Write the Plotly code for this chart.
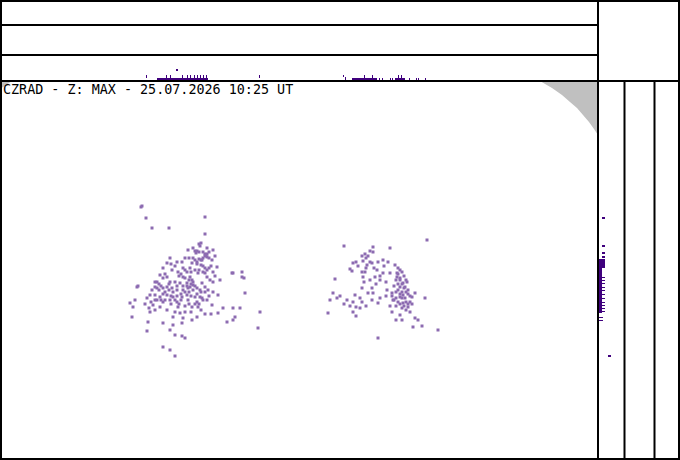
import plotly.graph_objects as go

W, H = 680, 460

# echo pixels of the MAX projection (image pixel coords, x right, y down)
echo1_x = [141, 142, 146, 152, 169, 205, 205, 200, 193, 188, 196, 206, 207, 202, 197, 192, 212, 170, 167, 182,
           190, 203, 205, 198, 217, 163, 172, 178, 160, 167, 183, 190, 192, 207, 210, 220, 233, 242, 244, 155,
           170, 180, 187, 193, 190, 188, 202, 205, 200, 208, 155, 157, 152, 163, 167, 172, 177, 183, 137, 213,
           218, 150, 155, 160, 167, 173, 182, 187, 195, 200, 202, 135, 130, 157, 163, 170, 177, 188, 197, 212,
           133, 153, 160, 178, 192, 198, 223, 233, 240, 150, 180, 197, 218, 173, 183, 192, 235, 132, 148, 163,
           182, 227, 233, 258, 260, 173, 147, 170, 175, 182, 185, 163, 170, 175, 232, 242, 138, 245,
           199, 201, 195, 197, 199, 203, 205, 207, 205, 209, 203, 199, 201, 195, 193, 189, 197, 201, 203, 205,
           209, 207, 199, 195, 191, 187, 185, 183, 181, 179, 185, 189, 193, 191, 187, 195, 197, 193, 189, 185,
           181, 177, 173, 169, 165, 161, 159, 157, 159, 163, 171, 175, 181, 191, 197, 201, 205, 209, 203, 199,
           195, 189, 185, 179, 171, 165, 161, 155, 151, 147, 145, 149, 155, 167, 175, 185, 191, 201, 205, 211,
           207, 213, 215, 213, 211, 215, 213, 209, 207, 185, 177, 175, 171, 165, 163, 175, 169, 177, 183]
echo1_y = [207, 206, 218, 228, 228, 217, 234, 246, 248, 250, 253, 255, 257, 260, 262, 263, 260, 258, 263, 262,
           268, 272, 273, 273, 267, 268, 270, 272, 275, 277, 277, 277, 280, 277, 280, 280, 273, 272, 278, 282,
           282, 283, 283, 285, 287, 288, 283, 287, 290, 290, 287, 288, 290, 288, 287, 288, 290, 290, 287, 292,
           295, 295, 295, 297, 295, 297, 297, 295, 297, 297, 298, 300, 303, 300, 302, 300, 302, 300, 302, 305,
           307, 305, 307, 307, 307, 307, 308, 308, 308, 312, 313, 317, 313, 317, 318, 320, 317, 317, 322, 323,
           323, 322, 320, 328, 312, 325, 331, 330, 335, 336, 338, 347, 350, 356, 273, 277, 286, 293,
           244, 243, 251, 251, 252, 252, 254, 254, 256, 258, 258, 259, 260, 260, 258, 258, 264, 265, 266, 268,
           268, 270, 270, 270, 272, 272, 270, 268, 274, 276, 278, 280, 282, 284, 286, 286, 288, 290, 292, 292,
           294, 296, 292, 290, 292, 286, 284, 282, 290, 294, 296, 300, 300, 296, 294, 292, 292, 296, 300, 304,
           304, 304, 306, 304, 304, 300, 300, 300, 302, 298, 304, 308, 310, 310, 312, 312, 312, 310, 314, 314,
           300, 282, 276, 272, 266, 256, 250, 252, 248, 258, 262, 266, 264, 274, 278, 282, 284, 286, 286]

echo2_x = [344, 373, 370, 373, 390, 427, 365, 362, 353, 356, 363, 370, 383, 350, 367, 372, 362, 365, 377, 383,
           390, 395, 363, 375, 370, 380, 397, 397, 400, 403, 405, 400, 402, 403, 400, 405, 398, 403, 402, 408,
           410, 412, 408, 407, 415, 410, 400, 393, 392, 387, 335, 362, 368, 373, 355, 333, 330, 337, 347, 353,
           360, 356, 360, 353, 378, 392, 328, 415, 418, 413, 422, 438, 378, 425,
           398, 400, 402, 398, 404, 400, 396, 402, 406, 404, 398, 406, 400, 408, 402, 396, 406, 400, 404, 408,
           396, 410, 412, 406, 398, 394, 392, 396, 394, 366, 368, 378, 358, 352, 366, 374, 384, 388, 380, 386,
           376, 372, 364, 386, 380, 372, 366, 362, 350, 344, 340, 356, 396, 402, 390]
echo2_y = [246, 247, 251, 252, 248, 240, 254, 256, 263, 262, 261, 262, 260, 269, 265, 263, 272, 272, 270, 273,
           273, 265, 277, 277, 280, 280, 273, 277, 280, 283, 287, 287, 292, 295, 297, 298, 302, 303, 308, 307,
           302, 297, 290, 282, 293, 312, 315, 300, 293, 290, 279, 288, 293, 293, 295, 293, 300, 298, 300, 302,
           298, 307, 308, 312, 303, 312, 313, 318, 320, 327, 326, 330, 338, 298,
           268, 270, 272, 274, 276, 278, 280, 284, 280, 288, 290, 292, 294, 294, 298, 298, 302, 304, 306, 304,
           306, 296, 304, 310, 284, 286, 296, 292, 300, 258, 256, 262, 266, 271, 268, 268, 266, 262, 276, 282,
           284, 288, 282, 296, 298, 300, 306, 302, 306, 304, 296, 316, 320, 320, 306]

# side view above the map: columns (x from, x to, top y, bottom y)
top_x0 = [146, 157, 176, 166, 170, 182, 187, 190, 194, 197, 200, 203, 206, 259,
          343, 345, 352, 364, 372, 379, 382, 390, 392, 395, 398, 401, 409, 416, 418, 425]
top_x1 = [147, 208, 178, 167, 171, 183, 188, 191, 195, 198, 201, 204, 207, 260,
          344, 346, 377, 365, 373, 380, 383, 391, 393, 405, 399, 402, 410, 417, 419, 426]
top_y0 = [75, 78, 69, 75, 75, 75, 75, 75, 75, 75, 75, 75, 75, 75,
          75, 77, 78, 75, 75, 78, 78, 78, 78, 78, 75, 75, 78, 78, 78, 78]
top_y1 = [78, 81, 71, 78, 78, 78, 78, 78, 78, 78, 78, 78, 78, 78,
          77, 81, 81, 78, 78, 81, 81, 81, 81, 81, 78, 78, 81, 81, 81, 81]

# side view right of the map: rows (y from, y to, left x, right x)
side_y0 = [217, 245, 252, 256, 259, 268, 277, 280, 283, 287, 290, 294, 298, 302, 305, 308, 311, 317, 320, 355]
side_y1 = [219, 247, 254, 258, 268, 313, 278, 281, 284, 288, 291, 295, 299, 303, 306, 309, 312, 318, 321, 357]
side_x0 = [602, 602, 602, 602, 598, 598, 598, 598, 598, 598, 598, 598, 598, 598, 598, 598, 598, 598, 598, 608]
side_x1 = [605, 605, 605, 605, 605, 602, 605, 605, 605, 605, 605, 605, 605, 605, 605, 605, 605, 603, 603, 611]

# edge of radar coverage, top right corner
mask_x = [540, 552, 562, 570, 577, 583, 589, 594, 598, 598]
mask_y = [81, 88, 95, 102, 108, 115, 122, 129, 135, 81]
mask2_x = [0, 12, 0]
mask2_y = [81, 81, 89]

title = "CZRAD - Z: MAX - 25.07.2026 10:25 UT"

echo_col = "#8c6bb1"
proj_col = "#3f007d"

fig = go.Figure()

fig.add_trace(go.Scatter(x=mask_x, y=mask_y, fill="toself", fillcolor="#c0c0c0", mode="none",
                         xaxis="x", yaxis="y", hoverinfo="skip"))
fig.add_trace(go.Scatter(x=mask2_x, y=mask2_y, fill="toself", fillcolor="#c0c0c0", mode="none",
                         xaxis="x", yaxis="y", hoverinfo="skip"))

for ex, ey in [(echo1_x, echo1_y), (echo2_x, echo2_y)]:
    fig.add_trace(go.Scatter(x=ex, y=ey, mode="markers", xaxis="x", yaxis="y",
                             marker=dict(symbol="square", size=3, color=echo_col, line=dict(width=0))))

fig.add_trace(go.Bar(
    x=[(a + b) / 2 for a, b in zip(top_x0, top_x1)],
    width=[b - a for a, b in zip(top_x0, top_x1)],
    base=top_y1,
    y=[a - b for a, b in zip(top_y0, top_y1)],
    marker=dict(color=proj_col, line=dict(width=0)),
    xaxis="x2", yaxis="y2"))

fig.add_trace(go.Bar(
    orientation="h",
    y=[(a + b) / 2 for a, b in zip(side_y0, side_y1)],
    width=[b - a for a, b in zip(side_y0, side_y1)],
    base=side_x0,
    x=[b - a for a, b in zip(side_x0, side_x1)],
    marker=dict(color=proj_col, line=dict(width=0)),
    xaxis="x3", yaxis="y3"))


def px(v):
    return v / W


def py(v):
    return (H - v) / H


hidden = dict(visible=False, showgrid=False, zeroline=False, fixedrange=True)
main_x = [0, px(598)]
main_y = [0, py(81)]

fig.update_layout(
    width=W, height=H,
    margin=dict(l=0, r=0, t=0, b=0),
    paper_bgcolor="white", plot_bgcolor="white",
    showlegend=False, barmode="overlay", bargap=0,
    xaxis=dict(domain=main_x, range=[0, 598], **hidden),
    yaxis=dict(domain=main_y, range=[460, 81], **hidden),
    xaxis2=dict(domain=main_x, range=[0, 598], anchor="y2", **hidden),
    yaxis2=dict(domain=[py(81), py(55)], range=[81, 55], anchor="x2", **hidden),
    xaxis3=dict(domain=[px(598), px(624.5)], range=[598, 624.5], anchor="y3", **hidden),
    yaxis3=dict(domain=main_y, range=[460, 81], anchor="x3", **hidden),
)

# panel frame
frame = [
    (0, 1, 680, 1), (0, 25, 598, 25), (0, 55, 598, 55), (0, 81, 680, 81), (0, 459, 680, 459),
    (1, 0, 1, 460), (598, 0, 598, 460), (624.5, 81, 624.5, 460), (654.5, 81, 654.5, 460), (679, 0, 679, 460),
]
for x0, y0, x1, y1 in frame:
    fig.add_shape(type="line", xref="paper", yref="paper",
                  x0=px(x0), y0=py(y0), x1=px(x1), y1=py(y1),
                  line=dict(color="black", width=2))

fig.add_annotation(text=title, xref="paper", yref="paper", x=px(0.5), y=py(89),
                   xanchor="left", yanchor="middle", showarrow=False,
                   font=dict(family="DejaVu Sans Mono", size=13.4, color="black"))

# page margin off so the 680x460 figure fills the window
fig.write_html("out.html", config={"displayModeBar": False},
               post_script="document.body.style.margin='0';")
